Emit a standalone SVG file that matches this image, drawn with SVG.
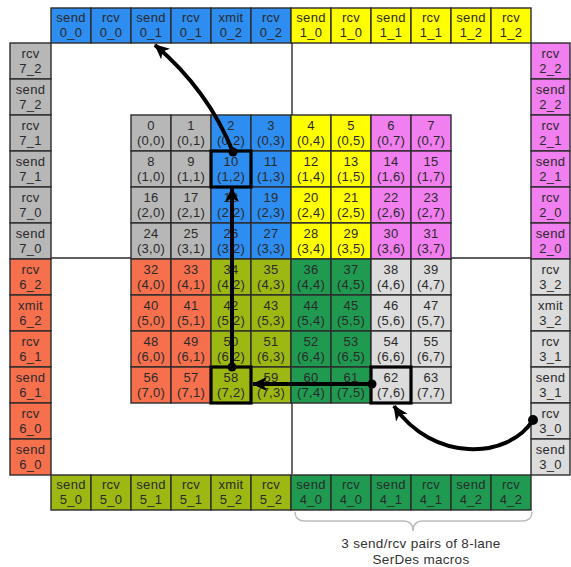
<svg xmlns="http://www.w3.org/2000/svg" width="571" height="567" viewBox="0 0 571 567">
<style>
.c rect{stroke:#2b2b2b;stroke-width:1.4}
.c text{font-family:"Liberation Sans",Arial,sans-serif;font-size:13px;letter-spacing:0.3px;fill:#2a2a2a;text-anchor:middle}
.bl rect{fill:#2d8df0}.ye rect{fill:#ffff00}.pk rect{fill:#f27ff0}.gy rect{fill:#b7b7b7}
.lg rect{fill:#dcdcdc}.or rect{fill:#f7704e}.ol rect{fill:#9db812}.dg rect{fill:#1f9a50}
.q{stroke:#2b2b2b;stroke-width:1.4;fill:none}
.hl{fill:none;stroke:#000;stroke-width:3.2}
.arr{fill:none;stroke:#000;stroke-width:4}
.dot{fill:#000}
.cap{font-family:"Liberation Sans",Arial,sans-serif;font-size:13.5px;letter-spacing:0.3px;fill:#333;text-anchor:middle}
</style>
<defs>
<marker id="ah" markerUnits="userSpaceOnUse" markerWidth="16" markerHeight="14" refX="14" refY="7" orient="auto">
<path d="M0,0 L15,7 L0,14 L4,7 z" fill="#000"/>
</marker>
</defs>
<rect width="571" height="567" fill="#fff"/>
<g id="quadrant-lines">
<line class="q" x1="292" y1="43" x2="292" y2="474"/>
<line class="q" x1="51" y1="258" x2="531" y2="258"/>
</g>
<g id="top-row">
<g id="t0" class="c bl"><rect x="51" y="8" width="40" height="35"/><text x="71" y="22">send</text><text x="71" y="37">0_0</text></g>
<g id="t1" class="c bl"><rect x="91" y="8" width="40" height="35"/><text x="111" y="22">rcv</text><text x="111" y="37">0_0</text></g>
<g id="t2" class="c bl"><rect x="131" y="8" width="40" height="35"/><text x="151" y="22">send</text><text x="151" y="37">0_1</text></g>
<g id="t3" class="c bl"><rect x="171" y="8" width="40" height="35"/><text x="191" y="22">rcv</text><text x="191" y="37">0_1</text></g>
<g id="t4" class="c bl"><rect x="211" y="8" width="40" height="35"/><text x="231" y="22">xmit</text><text x="231" y="37">0_2</text></g>
<g id="t5" class="c bl"><rect x="251" y="8" width="40" height="35"/><text x="271" y="22">rcv</text><text x="271" y="37">0_2</text></g>
<g id="t6" class="c ye"><rect x="291" y="8" width="40" height="35"/><text x="311" y="22">send</text><text x="311" y="37">1_0</text></g>
<g id="t7" class="c ye"><rect x="331" y="8" width="40" height="35"/><text x="351" y="22">rcv</text><text x="351" y="37">1_0</text></g>
<g id="t8" class="c ye"><rect x="371" y="8" width="40" height="35"/><text x="391" y="22">send</text><text x="391" y="37">1_1</text></g>
<g id="t9" class="c ye"><rect x="411" y="8" width="40" height="35"/><text x="431" y="22">rcv</text><text x="431" y="37">1_1</text></g>
<g id="t10" class="c ye"><rect x="451" y="8" width="40" height="35"/><text x="471" y="22">send</text><text x="471" y="37">1_2</text></g>
<g id="t11" class="c ye"><rect x="491" y="8" width="40" height="35"/><text x="511" y="22">rcv</text><text x="511" y="37">1_2</text></g>
</g>
<g id="left-col">
<g id="l0" class="c gy"><rect x="10" y="43" width="41" height="36"/><text x="30.5" y="58">rcv</text><text x="30.5" y="73">7_2</text></g>
<g id="l1" class="c gy"><rect x="10" y="79" width="41" height="36"/><text x="30.5" y="94">send</text><text x="30.5" y="109">7_2</text></g>
<g id="l2" class="c gy"><rect x="10" y="115" width="41" height="36"/><text x="30.5" y="130">rcv</text><text x="30.5" y="145">7_1</text></g>
<g id="l3" class="c gy"><rect x="10" y="151" width="41" height="36"/><text x="30.5" y="166">send</text><text x="30.5" y="181">7_1</text></g>
<g id="l4" class="c gy"><rect x="10" y="187" width="41" height="36"/><text x="30.5" y="202">rcv</text><text x="30.5" y="217">7_0</text></g>
<g id="l5" class="c gy"><rect x="10" y="223" width="41" height="36"/><text x="30.5" y="238">send</text><text x="30.5" y="253">7_0</text></g>
<g id="l6" class="c or"><rect x="10" y="259" width="41" height="36"/><text x="30.5" y="274">rcv</text><text x="30.5" y="289">6_2</text></g>
<g id="l7" class="c or"><rect x="10" y="295" width="41" height="36"/><text x="30.5" y="310">xmit</text><text x="30.5" y="325">6_2</text></g>
<g id="l8" class="c or"><rect x="10" y="331" width="41" height="36"/><text x="30.5" y="346">rcv</text><text x="30.5" y="361">6_1</text></g>
<g id="l9" class="c or"><rect x="10" y="367" width="41" height="36"/><text x="30.5" y="382">send</text><text x="30.5" y="397">6_1</text></g>
<g id="l10" class="c or"><rect x="10" y="403" width="41" height="36"/><text x="30.5" y="418">rcv</text><text x="30.5" y="433">6_0</text></g>
<g id="l11" class="c or"><rect x="10" y="439" width="41" height="36"/><text x="30.5" y="454">send</text><text x="30.5" y="469">6_0</text></g>
</g>
<g id="right-col">
<g id="r0" class="c pk"><rect x="531" y="43" width="39" height="36"/><text x="550.5" y="58">rcv</text><text x="550.5" y="73">2_2</text></g>
<g id="r1" class="c pk"><rect x="531" y="79" width="39" height="36"/><text x="550.5" y="94">send</text><text x="550.5" y="109">2_2</text></g>
<g id="r2" class="c pk"><rect x="531" y="115" width="39" height="36"/><text x="550.5" y="130">rcv</text><text x="550.5" y="145">2_1</text></g>
<g id="r3" class="c pk"><rect x="531" y="151" width="39" height="36"/><text x="550.5" y="166">send</text><text x="550.5" y="181">2_1</text></g>
<g id="r4" class="c pk"><rect x="531" y="187" width="39" height="36"/><text x="550.5" y="202">rcv</text><text x="550.5" y="217">2_0</text></g>
<g id="r5" class="c pk"><rect x="531" y="223" width="39" height="36"/><text x="550.5" y="238">send</text><text x="550.5" y="253">2_0</text></g>
<g id="r6" class="c lg"><rect x="531" y="259" width="39" height="36"/><text x="550.5" y="274">rcv</text><text x="550.5" y="289">3_2</text></g>
<g id="r7" class="c lg"><rect x="531" y="295" width="39" height="36"/><text x="550.5" y="310">xmit</text><text x="550.5" y="325">3_2</text></g>
<g id="r8" class="c lg"><rect x="531" y="331" width="39" height="36"/><text x="550.5" y="346">rcv</text><text x="550.5" y="361">3_1</text></g>
<g id="r9" class="c lg"><rect x="531" y="367" width="39" height="36"/><text x="550.5" y="382">send</text><text x="550.5" y="397">3_1</text></g>
<g id="r10" class="c lg"><rect x="531" y="403" width="39" height="36"/><text x="550.5" y="418">rcv</text><text x="550.5" y="433">3_0</text></g>
<g id="r11" class="c lg"><rect x="531" y="439" width="39" height="36"/><text x="550.5" y="454">send</text><text x="550.5" y="469">3_0</text></g>
</g>
<g id="bottom-row">
<g id="b0" class="c ol"><rect x="51" y="475" width="40" height="35"/><text x="71" y="489">send</text><text x="71" y="504">5_0</text></g>
<g id="b1" class="c ol"><rect x="91" y="475" width="40" height="35"/><text x="111" y="489">rcv</text><text x="111" y="504">5_0</text></g>
<g id="b2" class="c ol"><rect x="131" y="475" width="40" height="35"/><text x="151" y="489">send</text><text x="151" y="504">5_1</text></g>
<g id="b3" class="c ol"><rect x="171" y="475" width="40" height="35"/><text x="191" y="489">rcv</text><text x="191" y="504">5_1</text></g>
<g id="b4" class="c ol"><rect x="211" y="475" width="40" height="35"/><text x="231" y="489">xmit</text><text x="231" y="504">5_2</text></g>
<g id="b5" class="c ol"><rect x="251" y="475" width="40" height="35"/><text x="271" y="489">rcv</text><text x="271" y="504">5_2</text></g>
<g id="b6" class="c dg"><rect x="291" y="475" width="40" height="35"/><text x="311" y="489">send</text><text x="311" y="504">4_0</text></g>
<g id="b7" class="c dg"><rect x="331" y="475" width="40" height="35"/><text x="351" y="489">rcv</text><text x="351" y="504">4_0</text></g>
<g id="b8" class="c dg"><rect x="371" y="475" width="40" height="35"/><text x="391" y="489">send</text><text x="391" y="504">4_1</text></g>
<g id="b9" class="c dg"><rect x="411" y="475" width="40" height="35"/><text x="431" y="489">rcv</text><text x="431" y="504">4_1</text></g>
<g id="b10" class="c dg"><rect x="451" y="475" width="40" height="35"/><text x="471" y="489">send</text><text x="471" y="504">4_2</text></g>
<g id="b11" class="c dg"><rect x="491" y="475" width="40" height="35"/><text x="511" y="489">rcv</text><text x="511" y="504">4_2</text></g>
</g>
<g id="grid">
<g id="n0" class="c gy"><rect x="131" y="115" width="40" height="36"/><text x="151" y="130">0</text><text x="151" y="145">(0,0)</text></g>
<g id="n1" class="c gy"><rect x="171" y="115" width="40" height="36"/><text x="191" y="130">1</text><text x="191" y="145">(0,1)</text></g>
<g id="n2" class="c bl"><rect x="211" y="115" width="40" height="36"/><text x="231" y="130">2</text><text x="231" y="145">(0,2)</text></g>
<g id="n3" class="c bl"><rect x="251" y="115" width="40" height="36"/><text x="271" y="130">3</text><text x="271" y="145">(0,3)</text></g>
<g id="n4" class="c ye"><rect x="291" y="115" width="40" height="36"/><text x="311" y="130">4</text><text x="311" y="145">(0,4)</text></g>
<g id="n5" class="c ye"><rect x="331" y="115" width="40" height="36"/><text x="351" y="130">5</text><text x="351" y="145">(0,5)</text></g>
<g id="n6" class="c pk"><rect x="371" y="115" width="40" height="36"/><text x="391" y="130">6</text><text x="391" y="145">(0,7)</text></g>
<g id="n7" class="c pk"><rect x="411" y="115" width="40" height="36"/><text x="431" y="130">7</text><text x="431" y="145">(0,7)</text></g>
<g id="n8" class="c gy"><rect x="131" y="151" width="40" height="36"/><text x="151" y="166">8</text><text x="151" y="181">(1,0)</text></g>
<g id="n9" class="c gy"><rect x="171" y="151" width="40" height="36"/><text x="191" y="166">9</text><text x="191" y="181">(1,1)</text></g>
<g id="n10" class="c bl"><rect x="211" y="151" width="40" height="36"/><text x="231" y="166">10</text><text x="231" y="181">(1,2)</text></g>
<g id="n11" class="c bl"><rect x="251" y="151" width="40" height="36"/><text x="271" y="166">11</text><text x="271" y="181">(1,3)</text></g>
<g id="n12" class="c ye"><rect x="291" y="151" width="40" height="36"/><text x="311" y="166">12</text><text x="311" y="181">(1,4)</text></g>
<g id="n13" class="c ye"><rect x="331" y="151" width="40" height="36"/><text x="351" y="166">13</text><text x="351" y="181">(1,5)</text></g>
<g id="n14" class="c pk"><rect x="371" y="151" width="40" height="36"/><text x="391" y="166">14</text><text x="391" y="181">(1,6)</text></g>
<g id="n15" class="c pk"><rect x="411" y="151" width="40" height="36"/><text x="431" y="166">15</text><text x="431" y="181">(1,7)</text></g>
<g id="n16" class="c gy"><rect x="131" y="187" width="40" height="36"/><text x="151" y="202">16</text><text x="151" y="217">(2,0)</text></g>
<g id="n17" class="c gy"><rect x="171" y="187" width="40" height="36"/><text x="191" y="202">17</text><text x="191" y="217">(2,1)</text></g>
<g id="n18" class="c bl"><rect x="211" y="187" width="40" height="36"/><text x="231" y="202">18</text><text x="231" y="217">(2,2)</text></g>
<g id="n19" class="c bl"><rect x="251" y="187" width="40" height="36"/><text x="271" y="202">19</text><text x="271" y="217">(2,3)</text></g>
<g id="n20" class="c ye"><rect x="291" y="187" width="40" height="36"/><text x="311" y="202">20</text><text x="311" y="217">(2,4)</text></g>
<g id="n21" class="c ye"><rect x="331" y="187" width="40" height="36"/><text x="351" y="202">21</text><text x="351" y="217">(2,5)</text></g>
<g id="n22" class="c pk"><rect x="371" y="187" width="40" height="36"/><text x="391" y="202">22</text><text x="391" y="217">(2,6)</text></g>
<g id="n23" class="c pk"><rect x="411" y="187" width="40" height="36"/><text x="431" y="202">23</text><text x="431" y="217">(2,7)</text></g>
<g id="n24" class="c gy"><rect x="131" y="223" width="40" height="36"/><text x="151" y="238">24</text><text x="151" y="253">(3,0)</text></g>
<g id="n25" class="c gy"><rect x="171" y="223" width="40" height="36"/><text x="191" y="238">25</text><text x="191" y="253">(3,1)</text></g>
<g id="n26" class="c bl"><rect x="211" y="223" width="40" height="36"/><text x="231" y="238">26</text><text x="231" y="253">(3,2)</text></g>
<g id="n27" class="c bl"><rect x="251" y="223" width="40" height="36"/><text x="271" y="238">27</text><text x="271" y="253">(3,3)</text></g>
<g id="n28" class="c ye"><rect x="291" y="223" width="40" height="36"/><text x="311" y="238">28</text><text x="311" y="253">(3,4)</text></g>
<g id="n29" class="c ye"><rect x="331" y="223" width="40" height="36"/><text x="351" y="238">29</text><text x="351" y="253">(3,5)</text></g>
<g id="n30" class="c pk"><rect x="371" y="223" width="40" height="36"/><text x="391" y="238">30</text><text x="391" y="253">(3,6)</text></g>
<g id="n31" class="c pk"><rect x="411" y="223" width="40" height="36"/><text x="431" y="238">31</text><text x="431" y="253">(3,7)</text></g>
<g id="n32" class="c or"><rect x="131" y="259" width="40" height="36"/><text x="151" y="274">32</text><text x="151" y="289">(4,0)</text></g>
<g id="n33" class="c or"><rect x="171" y="259" width="40" height="36"/><text x="191" y="274">33</text><text x="191" y="289">(4,1)</text></g>
<g id="n34" class="c ol"><rect x="211" y="259" width="40" height="36"/><text x="231" y="274">34</text><text x="231" y="289">(4,2)</text></g>
<g id="n35" class="c ol"><rect x="251" y="259" width="40" height="36"/><text x="271" y="274">35</text><text x="271" y="289">(4,3)</text></g>
<g id="n36" class="c dg"><rect x="291" y="259" width="40" height="36"/><text x="311" y="274">36</text><text x="311" y="289">(4,4)</text></g>
<g id="n37" class="c dg"><rect x="331" y="259" width="40" height="36"/><text x="351" y="274">37</text><text x="351" y="289">(4,5)</text></g>
<g id="n38" class="c lg"><rect x="371" y="259" width="40" height="36"/><text x="391" y="274">38</text><text x="391" y="289">(4,6)</text></g>
<g id="n39" class="c lg"><rect x="411" y="259" width="40" height="36"/><text x="431" y="274">39</text><text x="431" y="289">(4,7)</text></g>
<g id="n40" class="c or"><rect x="131" y="295" width="40" height="36"/><text x="151" y="310">40</text><text x="151" y="325">(5,0)</text></g>
<g id="n41" class="c or"><rect x="171" y="295" width="40" height="36"/><text x="191" y="310">41</text><text x="191" y="325">(5,1)</text></g>
<g id="n42" class="c ol"><rect x="211" y="295" width="40" height="36"/><text x="231" y="310">42</text><text x="231" y="325">(5,2)</text></g>
<g id="n43" class="c ol"><rect x="251" y="295" width="40" height="36"/><text x="271" y="310">43</text><text x="271" y="325">(5,3)</text></g>
<g id="n44" class="c dg"><rect x="291" y="295" width="40" height="36"/><text x="311" y="310">44</text><text x="311" y="325">(5,4)</text></g>
<g id="n45" class="c dg"><rect x="331" y="295" width="40" height="36"/><text x="351" y="310">45</text><text x="351" y="325">(5,5)</text></g>
<g id="n46" class="c lg"><rect x="371" y="295" width="40" height="36"/><text x="391" y="310">46</text><text x="391" y="325">(5,6)</text></g>
<g id="n47" class="c lg"><rect x="411" y="295" width="40" height="36"/><text x="431" y="310">47</text><text x="431" y="325">(5,7)</text></g>
<g id="n48" class="c or"><rect x="131" y="331" width="40" height="36"/><text x="151" y="346">48</text><text x="151" y="361">(6,0)</text></g>
<g id="n49" class="c or"><rect x="171" y="331" width="40" height="36"/><text x="191" y="346">49</text><text x="191" y="361">(6,1)</text></g>
<g id="n50" class="c ol"><rect x="211" y="331" width="40" height="36"/><text x="231" y="346">50</text><text x="231" y="361">(6,2)</text></g>
<g id="n51" class="c ol"><rect x="251" y="331" width="40" height="36"/><text x="271" y="346">51</text><text x="271" y="361">(6,3)</text></g>
<g id="n52" class="c dg"><rect x="291" y="331" width="40" height="36"/><text x="311" y="346">52</text><text x="311" y="361">(6,4)</text></g>
<g id="n53" class="c dg"><rect x="331" y="331" width="40" height="36"/><text x="351" y="346">53</text><text x="351" y="361">(6,5)</text></g>
<g id="n54" class="c lg"><rect x="371" y="331" width="40" height="36"/><text x="391" y="346">54</text><text x="391" y="361">(6,6)</text></g>
<g id="n55" class="c lg"><rect x="411" y="331" width="40" height="36"/><text x="431" y="346">55</text><text x="431" y="361">(6,7)</text></g>
<g id="n56" class="c or"><rect x="131" y="367" width="40" height="36"/><text x="151" y="382">56</text><text x="151" y="397">(7,0)</text></g>
<g id="n57" class="c or"><rect x="171" y="367" width="40" height="36"/><text x="191" y="382">57</text><text x="191" y="397">(7,1)</text></g>
<g id="n58" class="c ol"><rect x="211" y="367" width="40" height="36"/><text x="231" y="382">58</text><text x="231" y="397">(7,2)</text></g>
<g id="n59" class="c ol"><rect x="251" y="367" width="40" height="36"/><text x="271" y="382">59</text><text x="271" y="397">(7,3)</text></g>
<g id="n60" class="c dg"><rect x="291" y="367" width="40" height="36"/><text x="311" y="382">60</text><text x="311" y="397">(7,4)</text></g>
<g id="n61" class="c dg"><rect x="331" y="367" width="40" height="36"/><text x="351" y="382">61</text><text x="351" y="397">(7,5)</text></g>
<g id="n62" class="c lg"><rect x="371" y="367" width="40" height="36"/><text x="391" y="382">62</text><text x="391" y="397">(7,6)</text></g>
<g id="n63" class="c lg"><rect x="411" y="367" width="40" height="36"/><text x="431" y="382">63</text><text x="431" y="397">(7,7)</text></g>
</g>
<g id="highlights">
<rect class="hl" x="211" y="151" width="40" height="36"/>
<rect class="hl" x="211" y="367" width="40" height="36"/>
<rect class="hl" x="371" y="367" width="40" height="36"/>
</g>
<g id="connectors">
<path class="arr" d="M233,152 Q208,90 155,45" marker-end="url(#ah)"/>
<path class="arr" d="M232,367 L232,188" marker-end="url(#ah)"/>
<path class="arr" d="M372,384 L253,384" marker-end="url(#ah)"/>
<path class="arr" d="M533,420 C508,460 432,462 394,406" marker-end="url(#ah)"/>
<circle class="dot" cx="233" cy="152" r="4.5"/>
<circle class="dot" cx="232" cy="367" r="4.5"/>
<circle class="dot" cx="372" cy="384" r="4.5"/>
<circle class="dot" cx="533" cy="420" r="5"/>
</g>
<g id="brace">
<path d="M295,512 Q295,521 305,521 L403,521 Q413,521 413,531 Q413,521 423,521 L522,521 Q532,521 532,512" fill="none" stroke="#bdbdbd" stroke-width="1.5"/>
<text class="cap" x="421" y="548">3 send/rcv pairs of 8-lane</text>
<text class="cap" x="421" y="564">SerDes macros</text>
</g>
</svg>
